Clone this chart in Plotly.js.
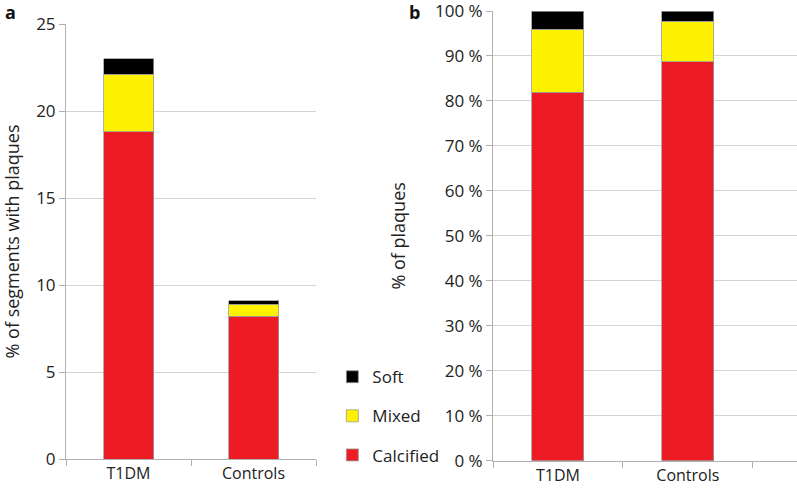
<!DOCTYPE html>
<html>
<head>
<meta charset="utf-8">
<script src="https://cdn.plot.ly/plotly-3.0.1.min.js"></script>
<style>
  html, body { margin: 0; padding: 0; background: #fff; }
  #plotDiv { width: 797px; height: 492px; }
</style>
</head>
<body>
<div id="plotDiv"></div>
<script>
// groups on the x axis
var groups = ['T1DM', 'Controls'];

// panel a: % of segments with plaques (stacked)
var segCalcified = [18.8, 8.2];
var segMixed = [3.3, 0.7];
var segSoft = [0.9, 0.2];

// panel b: % of plaques (stacked to 100)
var plqCalcified = [81.9, 88.7];
var plqMixed = [14.0, 9.0];
var plqSoft = [4.1, 2.3];

var yTicksA = [0, 5, 10, 15, 20, 25];
var yTicksB = [0, 10, 20, 30, 40, 50, 60, 70, 80, 90, 100];
var yLabelsB = ['0 %', '10 %', '20 %', '30 %', '40 %', '50 %', '60 %', '70 %', '80 %', '90 %', '100 %'];

var colCalcified = '#ed1c24';
var colMixed = '#fff200';
var colSoft = '#000000';
var edge = {color: '#9a9a9a', width: 0.8};

function makeTrace(name, vals, col, rank, xa, ya, show){
  return {
    type: 'bar',
    name: name,
    x: groups,
    y: vals,
    xaxis: xa,
    yaxis: ya,
    width: 0.4,
    marker: {color: col, line: edge},
    legendgroup: name,
    legendrank: rank,
    showlegend: show,
    hoverinfo: 'x+y'
  };
}

var data = [
  makeTrace('Calcified', segCalcified, colCalcified, 3, 'x', 'y', true),
  makeTrace('Mixed', segMixed, colMixed, 2, 'x', 'y', true),
  makeTrace('Soft', segSoft, colSoft, 1, 'x', 'y', true),
  makeTrace('Calcified', plqCalcified, colCalcified, 3, 'x2', 'y2', false),
  makeTrace('Mixed', plqMixed, colMixed, 2, 'x2', 'y2', false),
  makeTrace('Soft', plqSoft, colSoft, 1, 'x2', 'y2', false)
];

var fnt = {family: 'Open Sans, Liberation Sans, sans-serif', size: 16, color: '#222'};
var grid = '#d4d4d4';
var axline = '#b0b0b0';

var layout = {
  width: 797,
  height: 492,
  margin: {l: 0, r: 0, t: 0, b: 0},
  paper_bgcolor: '#fff',
  plot_bgcolor: '#fff',
  barmode: 'stack',
  font: fnt,
  showlegend: true,
  legend: {
    x: 0.417, y: 0.27, xanchor: 'left', yanchor: 'top',
    traceorder: 'grouped',
    tracegroupgap: 14,
    bgcolor: 'rgba(0,0,0,0)',
    font: {family: fnt.family, size: 17, color: '#222'},
    itemwidth: 30
  },
  xaxis: {
    domain: [66/797, 316/797],
    range: [-0.5, 1.5],
    tickson: 'boundaries',
    ticks: 'outside', ticklen: 6, tickcolor: axline,
    showline: true, linecolor: axline, linewidth: 1,
    showgrid: false,
    tickfont: {size: 16},
    anchor: 'y'
  },
  yaxis: {
    domain: [33/492, 468/492],
    range: [0, 25],
    tickvals: yTicksA,
    ticks: 'outside', ticklen: 6, tickcolor: axline,
    showline: true, linecolor: axline,
    gridcolor: grid, zeroline: false,
    tickfont: {size: 17},
    title: {text: '% of segments with plaques', font: {size: 18}, standoff: 12},
    anchor: 'x'
  },
  xaxis2: {
    domain: [493/797, 1],
    range: [-0.5, 1.84],
    tickson: 'boundaries',
    ticks: 'outside', ticklen: 6, tickcolor: axline,
    showline: true, linecolor: axline, linewidth: 1,
    showgrid: false,
    tickfont: {size: 16},
    anchor: 'y2'
  },
  yaxis2: {
    domain: [31.3/492, 481/492],
    range: [0, 100],
    tickvals: yTicksB,
    ticktext: yLabelsB,
    ticklabeloverflow: 'allow',
    ticks: 'outside', ticklen: 6, tickcolor: axline,
    showline: true, linecolor: axline,
    gridcolor: grid, zeroline: false,
    tickfont: {size: 17},
    title: {text: '% of plaques', font: {size: 18}, standoff: 24},
    anchor: 'x2'
  },
  annotations: [
    {text: '<b>a</b>', x: 3/797, y: 1.004, xref: 'paper', yref: 'paper', xanchor: 'left', yanchor: 'top', showarrow: false, font: {size: 18, color: '#111'}},
    {text: '<b>b</b>', x: 407/797, y: 1.004, xref: 'paper', yref: 'paper', xanchor: 'left', yanchor: 'top', showarrow: false, font: {size: 18, color: '#111'}}
  ]
};

Plotly.newPlot('plotDiv', data, layout, {displayModeBar: false, staticPlot: true});
</script>
</body>
</html>
